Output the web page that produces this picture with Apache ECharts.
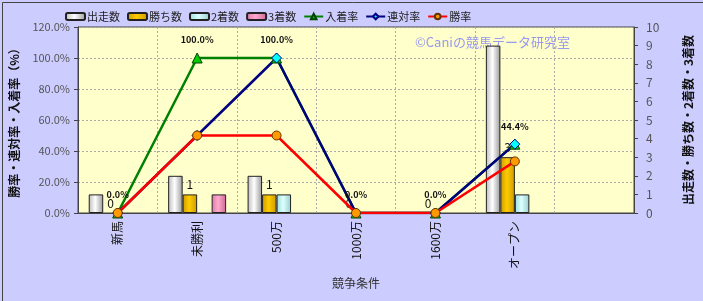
<!DOCTYPE html>
<html><head><meta charset="utf-8">
<script src="https://cdn.jsdelivr.net/npm/echarts@6/dist/echarts.min.js"></script>
<style>html,body{margin:0;padding:0;background:#ccccff}#c{width:703px;height:301px}</style>
</head><body><div id="c"></div>
<script>
const categories = ['新馬','未勝利','500万','1000万','1600万','オープン',''];
const runs   = [1, 2, 2, 0, 0, 9, null];
const wins   = [0, 1, 1, 0, 0, 3, null];
const second = [0, 0, 1, 0, 0, 1, null];
const third  = [0, 1, 0, 0, 0, 0, null];
const placeRate = [0, 100, 100, 0, 0, 44.4, null];
const quinRate  = [0, 50, 100, 0, 0, 44.4, null];
const winRate   = [0, 50, 50, 0, 0, 33.3, null];

const FONT = '"Noto Sans CJK JP", "DejaVu Sans", sans-serif';
function grad(c1, c2, c3){
  return {type:'linear', x:0, y:0, x2:1, y2:0, colorStops:[{offset:0,color:c1},{offset:0.45,color:c2},{offset:1,color:c3}]};
}
// hide the outline of zero-height bars (as in the reference)
function barData(arr){ return arr.map(v => v === 0 ? {value:0, itemStyle:{borderWidth:0, opacity:0}} : v); }
const barBase = {type:'bar', yAxisIndex:1, barGap:'0%', barCategoryGap:'27%'};
const chart = echarts.init(document.getElementById('c'));
chart.setOption({
  backgroundColor:'#ccccff',
  textStyle:{fontFamily:FONT},
  animation:false,
  grid:{left:77, right:69, top:27, bottom:88, show:true, backgroundColor:'#ffffcc', borderColor:'#444', borderWidth:1},
  legend:{
    left:60, top:6, itemWidth:19, itemHeight:7, itemGap:7,
    textStyle:{fontSize:11, color:'#222', fontFamily:FONT, padding:[0,0,0,-3]},
    data:['出走数','勝ち数','2着数','3着数','入着率','連対率','勝率']
  },
  graphic:[
    {type:'text', left:415, top:36, style:{text:'©Caniの競馬データ研究室', fill:'#9999ee', font:'13px '+FONT}},
    {type:'rect', left:0, top:0, shape:{width:702, height:300}, style:{fill:'none', stroke:'#444', lineWidth:1}, silent:true}
  ],
  xAxis:{
    type:'category', data:categories,
    name:'競争条件', nameLocation:'middle', nameGap:64,
    nameTextStyle:{fontSize:12, color:'#333'},
    axisLine:{lineStyle:{color:'#444'}}, axisTick:{show:false},
    axisLabel:{rotate:90, fontSize:12, color:'#111', margin:8, interval:0},
    splitLine:{show:true, lineStyle:{type:[2,2], color:'#aaa'}}
  },
  yAxis:[
    {type:'value', min:0, max:120, interval:20,
     name:'勝率・連対率・入着率（%）', nameLocation:'middle', nameGap:58, nameRotate:90,
     nameTextStyle:{fontSize:12, fontWeight:'bold', color:'#111'},
     axisLine:{show:true, lineStyle:{color:'#444'}}, axisTick:{show:true, length:4},
     axisLabel:{formatter:v=>v.toFixed(1)+'%', fontSize:11, color:'#555', margin:8},
     splitLine:{show:true, lineStyle:{type:[2,2], color:'#aaa'}}},
    {type:'value', min:0, max:10, interval:1,
     name:'出走数・勝ち数・2着数・3着数', nameLocation:'middle', nameGap:48, nameRotate:90,
     nameTextStyle:{fontSize:12, fontWeight:'bold', color:'#111'},
     axisLine:{show:true, lineStyle:{color:'#444'}}, axisTick:{show:true, length:4},
     axisLabel:{fontSize:12, color:'#555', margin:12},
     splitLine:{show:false}}
  ],
  series:[
    Object.assign({name:'出走数', data:barData(runs), itemStyle:{color:grad('#bbbbbb','#ffffff','#999999'), borderColor:'#222', borderWidth:1}}, barBase),
    Object.assign({name:'勝ち数', data:barData(wins), itemStyle:{color:grad('#cc9900','#ffcc00','#cc9900'), borderColor:'#222', borderWidth:1},
      label:{show:true, position:'top', distance:4, fontSize:12, color:'#111', opacity:1, formatter:p=>p.value==null?'':String(p.value)}}, barBase),
    Object.assign({name:'2着数', data:barData(second), itemStyle:{color:grad('#99dddd','#ddffff','#99cccc'), borderColor:'#222', borderWidth:1}}, barBase),
    Object.assign({name:'3着数', data:barData(third), itemStyle:{color:grad('#dd77aa','#ffaacc','#cc6699'), borderColor:'#222', borderWidth:1}}, barBase),
    {name:'入着率', type:'line', yAxisIndex:0, data:placeRate, symbol:'triangle', symbolSize:10,
     lineStyle:{color:'#008000', width:2.5}, itemStyle:{color:'#00cc00', borderColor:'#004400', borderWidth:1},
     label:{show:true, position:'top', distance:8, fontSize:9, fontWeight:'bold', color:'#111', formatter:p=>p.value==null?'':p.value.toFixed(1)+'%'}},
    {name:'連対率', type:'line', yAxisIndex:0, data:quinRate, symbol:'diamond', symbolSize:10,
     lineStyle:{color:'#000080', width:2.5}, itemStyle:{color:'#00ffff', borderColor:'#000080', borderWidth:1}},
    {name:'勝率', type:'line', yAxisIndex:0, data:winRate, symbol:'circle', symbolSize:9,
     lineStyle:{color:'#ff0000', width:2.5}, itemStyle:{color:'#ff9900', borderColor:'#663300', borderWidth:1}}
  ]
});
</script></body></html>
